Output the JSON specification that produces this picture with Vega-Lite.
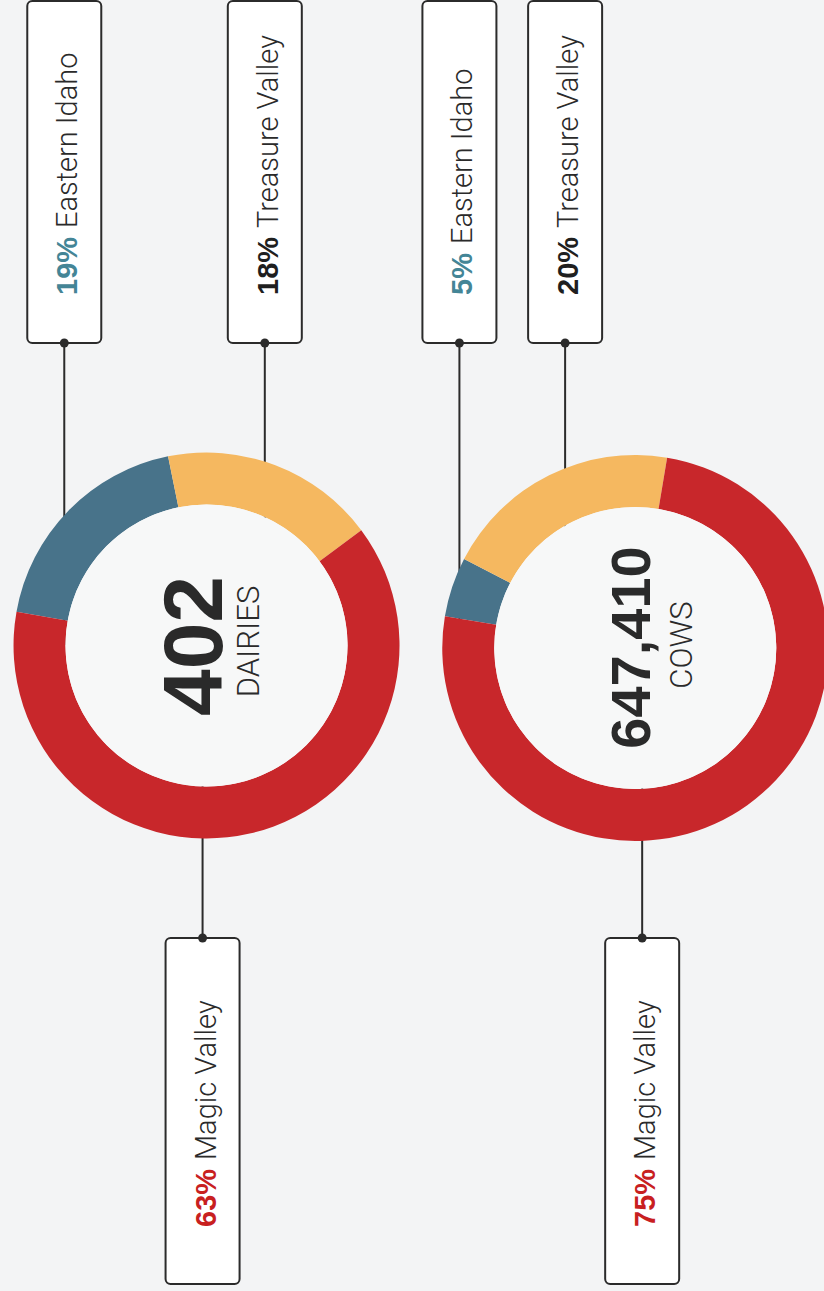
{
  "$schema": "https://vega.github.io/schema/vega-lite/v6.json",
  "width": 824,
  "height": 1291,
  "autosize": {"type": "none"},
  "padding": 0,
  "background": "#f3f4f5",
  "config": {"view": {"stroke": null}},
  "datasets": {
    "segments": [
      {"chart": "Dairies", "region": "Eastern Idaho", "share": 0.19, "anchor": 60, "side": "top"},
      {"chart": "Dairies", "region": "Treasure Valley", "share": 0.18, "anchor": 263, "side": "top"},
      {"chart": "Dairies", "region": "Magic Valley", "share": 0.63, "anchor": 200, "side": "bottom"},
      {"chart": "Cows", "region": "Eastern Idaho", "share": 0.05, "anchor": 460, "side": "top"},
      {"chart": "Cows", "region": "Treasure Valley", "share": 0.20, "anchor": 567, "side": "top"},
      {"chart": "Cows", "region": "Magic Valley", "share": 0.75, "anchor": 645, "side": "bottom"}
    ],
    "totals": [
      {"chart": "Dairies", "total": "402", "unit": "DAIRIES"},
      {"chart": "Cows", "total": "647,410", "unit": "COWS"}
    ]
  },
  "resolve": {"scale": {"theta": "independent"}},
  "layer": [
    {
      "data": {"name": "segments"},
      "transform": [{"filter": "datum.side === 'top'"}],
      "mark": {"type": "rule", "color": "#2b2b2b", "strokeWidth": 2},
      "encoding": {
        "x": {"field": "anchor", "type": "quantitative", "scale": {"domain": [0, 824], "nice": false, "zero": false}, "axis": null},
        "y": {"datum": 343, "type": "quantitative", "scale": {"domain": [0, 1291], "nice": false, "zero": false, "reverse": true}, "axis": null},
        "y2": {"datum": 645}
      }
    },
    {
      "data": {"name": "segments"},
      "transform": [{"filter": "datum.side === 'bottom'"}],
      "mark": {"type": "rule", "color": "#2b2b2b", "strokeWidth": 2},
      "encoding": {
        "x": {"field": "anchor", "type": "quantitative"},
        "y": {"datum": 938, "type": "quantitative"},
        "y2": {"datum": 645}
      }
    },
    {
      "data": {"name": "segments"},
      "transform": [{"filter": "datum.chart === 'Dairies'"}],
      "mark": {"type": "arc", "innerRadius": 141, "outerRadius": 193},
      "encoding": {
        "x": {"datum": 204, "type": "quantitative"},
        "y": {"datum": 645.5, "type": "quantitative"},
        "theta": {"field": "share", "type": "quantitative", "stack": true, "scale": {"range": [-0.2007, 6.0825]}},
        "order": {"field": "region", "sort": "descending"},
        "color": {"field": "region", "type": "nominal", "scale": {"domain": ["Treasure Valley", "Magic Valley", "Eastern Idaho"], "range": ["#f5b860", "#c8272b", "#48738a"]}, "legend": null}
      }
    },
    {
      "data": {"name": "segments"},
      "transform": [{"filter": "datum.chart === 'Cows'"}],
      "mark": {"type": "arc", "innerRadius": 141, "outerRadius": 193},
      "encoding": {
        "x": {"datum": 638, "type": "quantitative"},
        "y": {"datum": 648, "type": "quantitative"},
        "theta": {"field": "share", "type": "quantitative", "stack": true, "scale": {"range": [-1.0908, 5.1924]}},
        "order": {"field": "region", "sort": "descending"},
        "color": {"field": "region", "type": "nominal", "legend": null}
      }
    },
    {
      "data": {"name": "totals"},
      "transform": [{"filter": "datum.chart === 'Dairies'"}],
      "mark": {"type": "arc", "innerRadius": 0, "outerRadius": 141, "theta": 0, "theta2": 6.2832, "fill": "#f7f8f8"},
      "encoding": {
        "x": {"datum": 204, "type": "quantitative"},
        "y": {"datum": 645.5, "type": "quantitative"}
      }
    },
    {
      "data": {"name": "totals"},
      "transform": [{"filter": "datum.chart === 'Cows'"}],
      "mark": {"type": "arc", "innerRadius": 0, "outerRadius": 141, "theta": 0, "theta2": 6.2832, "fill": "#f7f8f8"},
      "encoding": {
        "x": {"datum": 638, "type": "quantitative"},
        "y": {"datum": 648, "type": "quantitative"}
      }
    },
    {
      "data": {"name": "totals"},
      "transform": [{"filter": "datum.chart === 'Dairies'"}],
      "mark": {"type": "text", "font": "Liberation Sans", "fontWeight": "bold", "fontSize": 84, "angle": 270, "align": "center", "baseline": "alphabetic", "dy": 15, "color": "#2a2a2a"},
      "encoding": {
        "x": {"datum": 204, "type": "quantitative"},
        "y": {"datum": 646, "type": "quantitative"},
        "text": {"field": "total"}
      }
    },
    {
      "data": {"name": "totals"},
      "transform": [{"filter": "datum.chart === 'Dairies'"}],
      "mark": {"type": "text", "font": "Roboto", "fontWeight": 300, "fontSize": 31, "angle": 270, "align": "center", "baseline": "alphabetic", "dy": 52, "color": "#2a2a2a"},
      "encoding": {
        "x": {"datum": 204, "type": "quantitative"},
        "y": {"datum": 641.5, "type": "quantitative"},
        "text": {"field": "unit"}
      }
    },
    {
      "data": {"name": "totals"},
      "transform": [{"filter": "datum.chart === 'Cows'"}],
      "mark": {"type": "text", "font": "Liberation Sans", "fontWeight": "bold", "fontSize": 56, "angle": 270, "align": "center", "baseline": "alphabetic", "dy": 15, "color": "#2a2a2a"},
      "encoding": {
        "x": {"datum": 638, "type": "quantitative"},
        "y": {"datum": 647.5, "type": "quantitative"},
        "text": {"field": "total"}
      }
    },
    {
      "data": {"name": "totals"},
      "transform": [{"filter": "datum.chart === 'Cows'"}],
      "mark": {"type": "text", "font": "Roboto", "fontWeight": 300, "fontSize": 31, "angle": 270, "align": "center", "baseline": "alphabetic", "dy": 57, "color": "#2a2a2a"},
      "encoding": {
        "x": {"datum": 638, "type": "quantitative"},
        "y": {"datum": 645, "type": "quantitative"},
        "text": {"field": "unit"}
      }
    },
    {
      "data": {"name": "segments"},
      "transform": [{"filter": "datum.side === 'top'"}],
      "mark": {"type": "bar", "width": 74, "cornerRadius": 5, "fill": "#ffffff", "stroke": "#2b2b2b", "strokeWidth": 2},
      "encoding": {
        "x": {"field": "anchor", "type": "quantitative"},
        "y": {"datum": 1, "type": "quantitative"},
        "y2": {"datum": 343}
      }
    },
    {
      "data": {"name": "segments"},
      "transform": [{"filter": "datum.side === 'bottom'"}],
      "mark": {"type": "bar", "width": 74, "cornerRadius": 5, "fill": "#ffffff", "stroke": "#2b2b2b", "strokeWidth": 2},
      "encoding": {
        "x": {"field": "anchor", "type": "quantitative"},
        "y": {"datum": 938, "type": "quantitative"},
        "y2": {"datum": 1284}
      }
    },
    {
      "data": {"name": "segments"},
      "transform": [{"filter": "datum.side === 'top'"}],
      "mark": {"type": "point", "filled": true, "size": 80, "color": "#2b2b2b", "opacity": 1},
      "encoding": {
        "x": {"field": "anchor", "type": "quantitative"},
        "y": {"datum": 343, "type": "quantitative"}
      }
    },
    {
      "data": {"name": "segments"},
      "transform": [{"filter": "datum.side === 'bottom'"}],
      "mark": {"type": "point", "filled": true, "size": 80, "color": "#2b2b2b", "opacity": 1},
      "encoding": {
        "x": {"field": "anchor", "type": "quantitative"},
        "y": {"datum": 938, "type": "quantitative"}
      }
    },
    {
      "data": {"name": "segments"},
      "transform": [{"filter": "datum.side === 'top'"}],
      "mark": {"type": "text", "font": "Liberation Sans", "fontWeight": "bold", "fontSize": 29, "angle": 270, "align": "left", "baseline": "middle", "dy": 4},
      "encoding": {
        "x": {"field": "anchor", "type": "quantitative"},
        "y": {"datum": 295, "type": "quantitative"},
        "text": {"field": "share", "type": "quantitative", "format": ".0%"},
        "fill": {"field": "region", "type": "nominal", "scale": {"domain": ["Treasure Valley", "Magic Valley", "Eastern Idaho"], "range": ["#1f1f1f", "#c8201f", "#448596"]}, "legend": null}
      }
    },
    {
      "data": {"name": "segments"},
      "transform": [{"filter": "datum.side === 'bottom'"}],
      "mark": {"type": "text", "font": "Liberation Sans", "fontWeight": "bold", "fontSize": 29, "angle": 270, "align": "left", "baseline": "middle", "dy": 4},
      "encoding": {
        "x": {"field": "anchor", "type": "quantitative"},
        "y": {"datum": 1227, "type": "quantitative"},
        "text": {"field": "share", "type": "quantitative", "format": ".0%"},
        "fill": {"field": "region", "type": "nominal", "legend": null}
      }
    },
    {
      "data": {"name": "segments"},
      "transform": [{"filter": "datum.side === 'top' && datum.share >= 0.1"}],
      "mark": {"type": "text", "font": "Roboto", "fontWeight": 300, "fontSize": 29, "angle": 270, "align": "left", "baseline": "middle", "dy": 4, "dx": 67, "color": "#2a2a2a"},
      "encoding": {
        "x": {"field": "anchor", "type": "quantitative"},
        "y": {"datum": 295, "type": "quantitative"},
        "text": {"field": "region"}
      }
    },
    {
      "data": {"name": "segments"},
      "transform": [{"filter": "datum.side === 'top' && datum.share < 0.1"}],
      "mark": {"type": "text", "font": "Roboto", "fontWeight": 300, "fontSize": 29, "angle": 270, "align": "left", "baseline": "middle", "dy": 4, "dx": 51, "color": "#2a2a2a"},
      "encoding": {
        "x": {"field": "anchor", "type": "quantitative"},
        "y": {"datum": 295, "type": "quantitative"},
        "text": {"field": "region"}
      }
    },
    {
      "data": {"name": "segments"},
      "transform": [{"filter": "datum.side === 'bottom'"}],
      "mark": {"type": "text", "font": "Roboto", "fontWeight": 300, "fontSize": 29, "angle": 270, "align": "left", "baseline": "middle", "dy": 4, "dx": 67, "color": "#2a2a2a"},
      "encoding": {
        "x": {"field": "anchor", "type": "quantitative"},
        "y": {"datum": 1227, "type": "quantitative"},
        "text": {"field": "region"}
      }
    }
  ]
}
